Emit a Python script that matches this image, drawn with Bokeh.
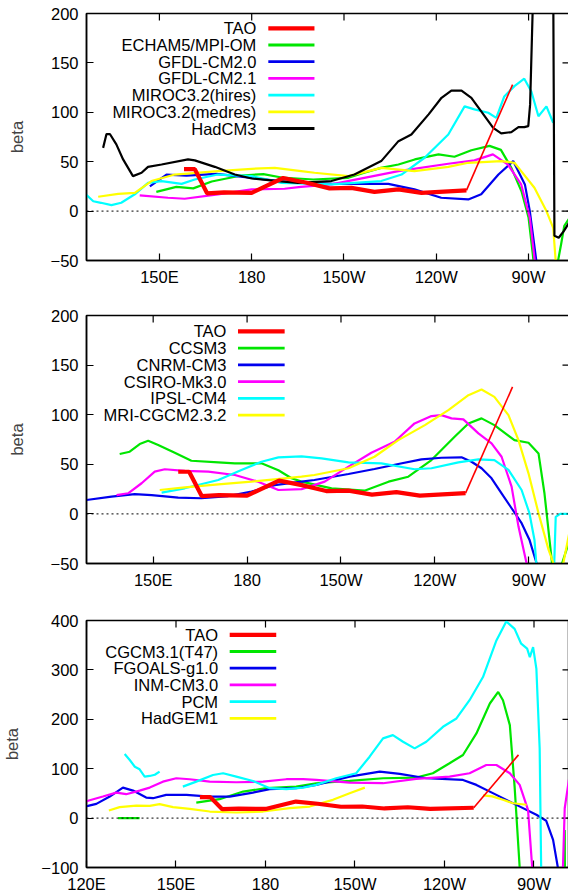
import math
from bokeh.plotting import figure
from bokeh.layouts import column
from bokeh.models import Span, FixedTicker, Range1d
from bokeh.core.properties import value
from bokeh.embed import file_html
from bokeh.resources import INLINE

NaN = float("nan")

# ---------------- shared observation ----------------
tao_lon = [158, 161.5, 165.5, 171, 180, 190.2, 197.5, 205.3, 212.4, 219.9, 227.7, 235.2, 249.8]
tao_val = [42.5, 42.5, 18, 19, 18.5, 33.5, 29, 23, 23.5, 19.5, 22, 18.5, 21]
tao_ext_lon = [249.8, 264.8]
tao_ext_val = [21, 128]

# ---------------- panel 1 ----------------
p1_names = ["TAO", "ECHAM5/MPI-OM", "GFDL-CM2.0", "GFDL-CM2.1",
            "MIROC3.2(hires)", "MIROC3.2(medres)", "HadCM3"]

echam_lon = [149, 155.5, 161, 167, 176.6, 183.8, 189.7, 200, 211.4, 216.6, 222, 227.7, 233,
             240.7, 245.9, 251.4, 257.3, 261, 264.4, 267.7, 270, 271.6, 272.5, NaN,
             279.0, 280.6, 281.6, 283.5]
echam_val = [19.5, 24.5, 23, 30, 36, 37.5, 34, 32, 33.7, 38.8, 43.8, 47.2, 52.3,
             57.4, 55, 61.6, 66, 62, 43.8, 20, -6.8, -50, -70, NaN,
             -60, -33, -15, -6]

gfdl20_lon = [146.9, 152.3, 158.8, 168.5, 180, 189.7, 205.9, 224.4, 232.9, 241.6, 250.4, 254.6,
              260.2, 265, 268.8, 270.4, 272.5, 273.5]
gfdl20_val = [25, 37, 36, 37.7, 33.7, 30, 27.6, 27.6, 22, 13.5, 11.8, 17,
              37, 50.6, 27, 0, -50, -80]

gfdl21_lon = [143.6, 152.8, 158.2, 169, 180, 190.7, 196, 205.9, 216.6, 227.7, 243.9, 252.4,
              258.4, 263.3, 267.6, 270.4, 272, 273]
gfdl21_val = [16, 13.5, 12.5, 17, 22, 22.6, 24.6, 27, 33.7, 40.5, 47.9, 51.3,
              57.4, 47, 27, -6.8, -50, -80]

hires_lon = [125, 128.5, 131, 134.4, 137.6, 142, 146.3, 150.7, 157.2, 161.5, 169, 180, 189.7,
             205.9, 222.1, 228.7, 236.2, 243.9, 249.2, 252.4, 256.9, 259.5, 262.1, 265.4,
             268.6, 270.9, 273.2, 275.8, 278]
hires_val = [20, 10, 8.4, 6, 8.4, 17, 28.6, 30.4, 27.6, 32, 37, 35.4, 28.6,
             27, 30.4, 37, 54, 77.6, 106, 103, 99.5, 94.4, 116, 126.5,
             134, 121, 96, 106, 89.4]

medres_lon = [130.1, 136.6, 142, 147.4, 155, 169, 180, 187.5, 196.1, 200.4, 211.4, 222.1,
              232.9, 243.9, 250.4, 261.1, 265.4, 267.6, 271.9, 275.8, 278, 278.8, 279.5]
medres_val = [14.5, 17.5, 18.5, 30.4, 37, 40.5, 42.8, 43.8, 40.5, 38.8, 35.4, 43.8,
              40.5, 44.8, 48.9, 50.6, 48.9, 40.5, 23.6, 0, -17, -50, -80]

hadcm3_lon = [131.7, 132.8, 133.9, 136, 138.2, 141.4, 144.2, 146.3, 150.7, 159.3, 161.5, 168,
              174.5, 180, 188.6, 195, 205.9, 213.4, 222.1, 227.7, 231.9, 237.5, 241.7, 244.9,
              248.2, 251.4, 254.6, 258.5, 261.1, 264.4, 266.7, 268.6, 269.9, 270.5, 271.3,
              272, 277.9, 278.4, 279.8, 281.5, 283.5]
hadcm3_val = [64, 78, 78, 67.5, 52.3, 35.4, 38.8, 44.8, 47.2, 52.3, 51.3, 44.8,
              37, 33, 30.4, 28.6, 30.4, 37, 50.6, 70.8, 77.6, 97.9, 114.7, 122,
              122, 114.7, 101, 84.3, 78.6, 80, 85, 85, 86, 108, 200,
              300, 300, -25, -27, -20, -10]

# ---------------- panel 2 ----------------
p2_names = ["TAO", "CCSM3", "CNRM-CM3", "CSIRO-Mk3.0", "IPSL-CM4", "MRI-CGCM2.3.2"]

ccsm3_lon = [139.3, 142.5, 145.7, 148.4, 151.6, 156.9, 162.2, 170.8, 176.1, 184.6, 190, 194.2,
             197.4, 207, 217.5, 225.2, 231.5, 238.9, 246.3, 250.7, 254.9, 259, 265.4, 269.9,
             273.1, 275, 277.3, 278, NaN, 280, 280.6, 283.5]
ccsm3_val = [60.4, 62.7, 70.4, 73.7, 69.4, 61.7, 53.6, 52, 51, 51, 44, 36,
             32.5, 25.8, 23.4, 32.5, 37.5, 54.3, 77.8, 91.2, 96.3, 89.5, 74.4, 71.7,
             61, 20.8, -46, -70, NaN, -70, -50, -22]

cnrm_lon = [125, 128.7, 136.7, 144.1, 149.5, 158, 165.4, 174, 181.4, 188.8, 197.4, 201.5, 212.4,
            220.7, 228.3, 235.7, 242.1, 248.5, 251.7, 254.9, 258.1, 261.3, 264.5, 267.7, 270.2,
            272.5, 274]
cnrm_val = [13, 14, 17.4, 20, 19, 16.4, 15.8, 18, 22.4, 29, 32.5, 34.2, 40.2,
            45.3, 50.3, 55, 56.6, 57, 52.6, 46, 35.9, 20.8, 5.7, -9.4, -26,
            -50, -70]

csiro_lon = [138.3, 142, 146.3, 150.5, 153.7, 160.1, 167.6, 176.1, 183.5, 190, 197.4, 204.8,
             212.4, 219.7, 227.1, 233.5, 238.9, 242.1, 245.3, 249.1, 253.9, 258.1, 261.3,
             264.5, 266.7, 269.3, 270]
csiro_val = [19, 20.8, 30.9, 42.6, 45, 43.3, 42.6, 39.2, 32.5, 24.1, 25, 32.5,
             47.6, 61.7, 72.7, 91.2, 98.6, 99.6, 96.3, 95.3, 81.2, 71.1, 57.6,
             27.5, -12.8, -50, -70]

ipsl_lon = [152.7, 160.1, 170.8, 178.2, 184.6, 190, 197.4, 203.8, 212.4, 222.9, 233.5, 238.9,
            247.5, 253.9, 259, 263.5, 267.7, 270.2, 271.8, 272.4, 274, 277.6, 278.6, 280, 284]
ipsl_val = [21.4, 25.8, 34.2, 44.3, 52.6, 57, 58, 56, 52, 51, 45, 46,
            52, 55, 54.3, 44.3, 24.1, 0.7, -26, -50, -100, -100, -3, 0, 0]

mri_lon = [152.1, 160.1, 170.8, 181.4, 192, 197.4, 201.5, 212.4, 220.7, 228.3, 236.8, 244.3,
           250.7, 254.9, 259, 263.5, 266.7, 269.9, 273.1, 276.3, 277.9, 279, 279.6, 281, 283.5]
mri_val = [24.1, 26.8, 29.8, 32.5, 35.9, 37.5, 39.2, 46, 57.6, 74.4, 89.5, 104.6,
           119.7, 125.4, 118, 99.6, 74.4, 40.9, 0.7, -36, -50, -100, -100, -50, -10]

# ---------------- panel 3 ----------------
p3_names = ["TAO", "CGCM3.1(T47)", "FGOALS-g1.0", "INM-CM3.0", "PCM", "HadGEM1"]

cgcm_lon = [130.6, 137.8, NaN, 156.8, 164.6, 172.5, 180.3, 190.3, 197, 208.2, 219.4, 230.5,
            236.1, 241.7, 246.2, 250.7, 255.2, 258, 259.6, 261.9, 263.5, 265.2, 265.5, NaN,
            280.3, 280.4]
cgcm_val = [0, 0, NaN, 31.5, 38.3, 53.7, 60.5, 63.7, 70.6, 75.2, 80.7, 82,
            90.8, 111, 127.7, 171.4, 232, 255.4, 238.6, 188.2, 63.7, -100, -150, NaN,
            -24, -150]

fgoals_lon = [118, 120.5, 123.3, 127.8, 132.2, 135.6, 140, 142.3, 146.7, 153.5, 161.3, 168,
              175.8, 181.4, 190.3, 197, 208.2, 218.3, 225, 233.9, 246.2, 250.7, 257.4, 264.1,
              270.8, 274.1, 276.4, 278, 279]
fgoals_val = [22, 24.8, 28.8, 43.6, 61.7, 55.7, 41.6, 40.3, 47, 47, 43.6, 43.6,
              51.6, 58.5, 60.5, 67.2, 84, 94, 89.4, 80.7, 77.3, 67.2, 47, 26.8,
              6.7, -5.4, -44, -100, -150]

inm_lon = [118, 120.5, 125.5, 130, 133.3, 137.8, 141.2, 145.6, 150.1, 154.6, 161.3, 170.2,
           179.2, 187, 192.6, 197, 208.2, 219.4, 230.5, 241.7, 248.4, 254, 257.4, 261.9,
           265.2, 268, 269.4, 270, 279, 279.7, 280.3, 282.5, 284]
inm_val = [32, 35, 43.6, 51.6, 48.4, 55.7, 61.7, 73.8, 80.7, 78.7, 73.8, 72.6,
           73.8, 78.7, 78.7, 77.3, 71.8, 70.6, 79.3, 84, 90.8, 107.5, 107.5, 90.8,
           67.2, 16.7, -100, -150, -150, -100, 20, 110, 140]

pcm_lon = [132.8, 134.5, 136.2, 137.8, 139.5, 141.2, 142.9, 144.5, NaN,
           152.3, 156.8, 162.4, 165.8, 170.2, 175.8, 181.4, 187, 192.6, 197, 203.7, 210.4,
           214.9, 219.4, 222.7, 226.1, 230, 233.9, 239.5, 244, 248.4, 252.9, 257.4, 260.7,
           263.5, 265.7, 267.7, 268.6, 269.7, 270.8, 271.9, 272.4, 273]
pcm_val = [129.7, 117.6, 104, 98.8, 84, 85.3, 87.7, 94, NaN,
           63.7, 73.8, 87.3, 90.8, 84, 75.2, 60.5, 58.5, 61.7, 67.2, 80.7, 90.8,
           124.3, 161.4, 168, 154.5, 141.2, 154.5, 184.8, 201.7, 238.6, 285.6, 359.6, 398,
           383, 353, 343, 326, 346, 302, 141, -100, -150]

hadgem_lon = [127.5, 131.1, 136.7, 141.2, 144.5, 149, 154.6, 161.3, 170.2, 179.2, 188.1, 194.8,
              202.6, 208.2, 213.3, NaN, 252.9, 256, 259.6, 263, 267.5]
hadgem_val = [15.3, 22.2, 25.4, 24.8, 28.2, 22.2, 18.8, 13.3, 11.3, 13.3, 20.2, 23.4,
              37, 50.4, 61.7, NaN, 46, 44, 37, 30, 27]

# ---------------- styling ----------------
FONT = "Liberation Sans"
FS = "16.5px"
RED, GREEN, BLUE, MAGENTA, CYAN, YELLOW, BLACK = (
    "#ff0000", "#00e600", "#0000ee", "#ff00ff", "#00ffff", "#ffff00", "#000000")
MODEL_W = 2.2
TAO_W = 4.2
FRAME_W = 483
TICK_PX = 7


def make_panel(xr, yr, xticks, xlabels, yticks, top_border, frame_h, bottom_border,
               ylab_standoff, series, names, colors, leg):
    p = figure(frame_width=FRAME_W, frame_height=frame_h,
               x_range=Range1d(*xr), y_range=Range1d(*yr),
               output_backend="svg", toolbar_location=None,
               min_border_left=85, min_border_right=0,
               min_border_top=top_border, min_border_bottom=bottom_border)
    p.xgrid.visible = False
    p.ygrid.visible = False
    p.outline_line_color = "black"
    p.outline_line_width = 1.5
    p.background_fill_color = "white"
    p.border_fill_color = "white"

    p.xaxis.ticker = FixedTicker(ticks=xticks)
    p.xaxis.major_label_overrides = {t: l for t, l in zip(xticks, xlabels)}
    p.yaxis.ticker = FixedTicker(ticks=yticks)
    for ax in (p.xaxis[0], p.yaxis[0]):
        ax.major_tick_in = TICK_PX
        ax.major_tick_out = 0
        ax.minor_tick_line_color = None
        ax.axis_line_width = 1.5
        ax.major_tick_line_width = 1.2
        ax.major_label_text_font = FONT
        ax.major_label_text_font_size = FS
        ax.major_label_text_color = "black"
    p.xaxis.major_label_standoff = 7
    p.yaxis.major_label_standoff = 8
    p.yaxis.axis_label = "beta"
    p.yaxis.axis_label_text_font = FONT
    p.yaxis.axis_label_text_font_size = FS
    p.yaxis.axis_label_text_font_style = "normal"
    p.yaxis.axis_label_standoff = ylab_standoff

    # mirrored (inward) ticks on the top and right edges of the frame
    dy = TICK_PX * (yr[1] - yr[0]) / frame_h
    dx = TICK_PX * (xr[1] - xr[0]) / FRAME_W
    p.segment(x0=xticks, y0=[yr[1]] * len(xticks), x1=xticks, y1=[yr[1] - dy] * len(xticks),
              line_color="black", line_width=1.2)
    p.segment(x0=[xr[1]] * len(yticks), y0=yticks, x1=[xr[1] - dx] * len(yticks), y1=yticks,
              line_color="black", line_width=1.2)

    p.add_layout(Span(location=0, dimension="width", line_color="black",
                      line_width=1, line_dash="2 3"))

    for (lon, val), c in zip(series, colors[1:]):
        p.line(lon, val, line_color=c, line_width=MODEL_W)
    p.line(tao_ext_lon, tao_ext_val, line_color=RED, line_width=1.6)
    p.line(tao_lon, tao_val, line_color=RED, line_width=TAO_W)

    tx, lx0, lx1, ytop, ystep = leg
    ys = [ytop - i * ystep for i in range(len(names))]
    p.text(x=[tx] * len(names), y=ys, text=names, text_align="right",
           text_baseline="middle", text_font=value(FONT), text_font_size=FS,
           text_color="black")
    widths = [TAO_W] + [MODEL_W + 0.6] * (len(names) - 1)
    p.segment(x0=[lx0] * len(names), y0=ys, x1=[lx1] * len(names), y1=ys,
              line_color=colors[:len(names)], line_width=widths)
    return p


ticks_a = [150, 180, 210, 240, 270]
labels_a = ["150E", "180", "150W", "120W", "90W"]
ticks_b = [120, 150, 180, 210, 240, 270]
labels_b = ["120E", "150E", "180", "150W", "120W", "90W"]

p1 = make_panel((126.3, 283.3), (-50, 200), ticks_a, labels_a, [-50, 0, 50, 100, 150, 200],
                13, 247, 37, 22,
                [(echam_lon, echam_val), (gfdl20_lon, gfdl20_val), (gfdl21_lon, gfdl21_val),
                 (hires_lon, hires_val), (medres_lon, medres_val), (hadcm3_lon, hadcm3_val)],
                p1_names, [RED, GREEN, BLUE, MAGENTA, CYAN, YELLOW, BLACK],
                (181.5, 185.4, 200.4, 185, 16.9))

p2 = make_panel((128.7, 283.0), (-50, 200), ticks_a, labels_a, [-50, 0, 50, 100, 150, 200],
                18, 248, 39, 22,
                [(ccsm3_lon, ccsm3_val), (cnrm_lon, cnrm_val), (csiro_lon, csiro_val),
                 (ipsl_lon, ipsl_val), (mri_lon, mri_val)],
                p2_names, [RED, GREEN, BLUE, MAGENTA, CYAN, YELLOW],
                (173.4, 177.1, 192.0, 184, 16.9))

p3 = make_panel((120, 281.9), (-100, 400), ticks_b, labels_b, [-100, 0, 100, 200, 300, 400],
                18, 247, 27, 17,
                [(cgcm_lon, cgcm_val), (fgoals_lon, fgoals_val), (inm_lon, inm_val),
                 (pcm_lon, pcm_val), (hadgem_lon, hadgem_val)],
                p3_names, [RED, GREEN, BLUE, MAGENTA, CYAN, YELLOW],
                (164.1, 168.0, 183.6, 371, 33.8))

layout = column(p1, p2, p3, spacing=0)
open("out.html", "w").write(file_html(layout, INLINE))
